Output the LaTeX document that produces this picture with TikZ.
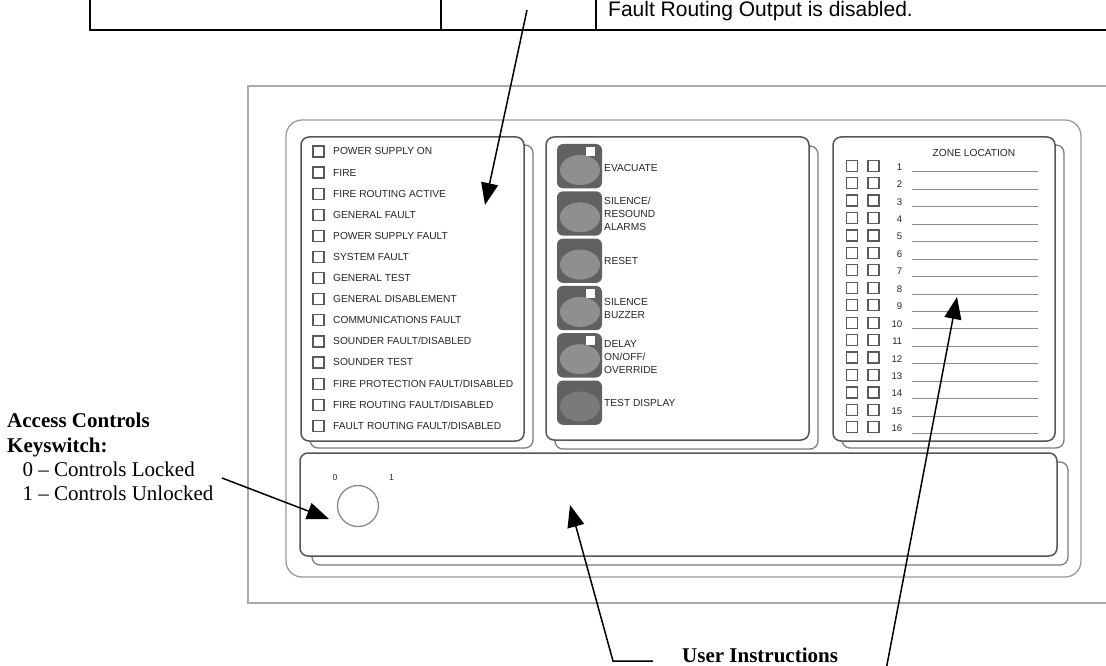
\documentclass[tikz,border=0pt]{standalone}
\usepackage{fontspec}
\setmainfont{Liberation Serif}
\setsansfont{Liberation Sans}
\usetikzlibrary{arrows.meta}
\definecolor{panelline}{HTML}{555555}
\definecolor{shadowline}{HTML}{7C7C7C}
\definecolor{frameline}{HTML}{9C9C9C}
\definecolor{outerline}{HTML}{AAAAAA}
\definecolor{btnfill}{HTML}{616161}
\definecolor{btnoval}{HTML}{8F8F8F}
\definecolor{btnovaldark}{HTML}{7A7A7A}
\definecolor{chkline}{HTML}{5A5A5A}
\definecolor{zoneline}{HTML}{8C8C8C}
\definecolor{keyline}{HTML}{8A8A8A}
\definecolor{paneltext}{HTML}{262626}
\tikzset{
  tableline/.style={draw=black, line width=1.2pt},
  tabletext/.style={font=\sffamily\fontsize{21}{24}\selectfont, anchor=base west, inner sep=0pt},
  outerframe/.style={draw=outerline, line width=1.3pt},
  innerframe/.style={draw=frameline, line width=1.3pt, rounded corners=16pt},
  frontpanel/.style={draw=panelline, line width=1.5pt, rounded corners=8pt, fill=white},
  shadowpanel/.style={draw=shadowline, line width=1.3pt, rounded corners=8pt, fill=white},
  chkbox/.style={draw=chkline, line width=1.2pt, minimum width=11pt, minimum height=11pt, inner sep=0pt, fill=white},
  lbl/.style={font=\sffamily\fontsize{10.2}{12.8}\selectfont, text=paneltext, anchor=base west, inner sep=0pt},
  mlbl/.style={font=\sffamily\fontsize{10.2}{12.8}\selectfont, text=paneltext, anchor=west, inner sep=0pt, align=left},
  znum/.style={font=\sffamily\fontsize{9.6}{11}\selectfont, text=paneltext, anchor=base east, inner sep=0pt},
  zline/.style={draw=zoneline, line width=1pt},
  button/.style={fill=btnfill, rounded corners=6pt, minimum width=45pt, minimum height=44.3pt, inner sep=0pt},
  keycircle/.style={draw=keyline, line width=1.3pt, circle, minimum size=41pt, inner sep=0pt},
  keylbl/.style={font=\sffamily\fontsize{8.6}{10}\selectfont, text=paneltext, anchor=base, inner sep=0pt},
  bigbold/.style={font=\bfseries\fontsize{21}{24}\selectfont, anchor=base west, inner sep=0pt},
  bigreg/.style={font=\fontsize{21}{24}\selectfont, anchor=base west, inner sep=0pt},
  callout/.style={draw=black, line width=1.5pt, -{Triangle[length=22pt,width=17pt]}}
}
\begin{document}
\begin{tikzpicture}[x=1pt,y=-1pt]
\useasboundingbox (0,0) rectangle (1106,666);
\fill[white] (0,0) rectangle (1106,666);

% ---- table remnant at top
\draw[tableline] (90,-3) -- (90,30) -- (1115,30);
\draw[tableline] (441,-3) -- (441,30);
\draw[tableline] (596,-3) -- (596,30);
\node[tabletext] (faultrouting) at (608,17) {Fault Routing Output is disabled.};

% ---- panel frames
\draw[outerframe] (248,86) rectangle (1120,603);
\draw[innerframe] (286,120) rectangle (1081,577);

% left indicator panel
\draw[shadowpanel] (310,145) rectangle (533,448);
\draw[frontpanel] (301,137) rectangle (524,441);
% middle button panel
\draw[shadowpanel] (555,146) rectangle (818,449);
\draw[frontpanel] (546,137) rectangle (809,440);
% right zone panel
\draw[shadowpanel] (842,145) rectangle (1064,448);
\draw[frontpanel] (833,137) rectangle (1055,441);
% bottom instructions panel
\draw[shadowpanel] (312,462) rectangle (1068,565);
\draw[frontpanel] (300,453) rectangle (1057,556);

% ---- left indicators
\foreach \t [count=\i from 0] in {POWER SUPPLY ON, FIRE, FIRE ROUTING ACTIVE, GENERAL FAULT, POWER SUPPLY FAULT, SYSTEM FAULT, GENERAL TEST, GENERAL DISABLEMENT, COMMUNICATIONS FAULT, SOUNDER FAULT/DISABLED, SOUNDER TEST, FIRE PROTECTION FAULT/DISABLED, FIRE ROUTING FAULT/DISABLED, FAULT ROUTING FAULT/DISABLED} {
  \node[chkbox] (lchk\i) at ({318.5},{151.5+21.1*\i}) {};
  \node[lbl] (ltxt\i) at ({333},{154.9+21.1*\i}) {\t};
}

% ---- middle buttons
\foreach \i/\sq in {0/1,1/0,2/0,3/1,4/1,5/0} {
  \pgfmathsetmacro\bt{144+47.3*\i}
  \node[button] (btn\i) at ({579.5},{\bt+22.15}) {};
  \ifnum\i=5
    \fill[btnovaldark] ({580},{\bt+26}) ellipse [x radius=20, y radius=15];
  \else
    \fill[btnoval] ({580},{\bt+26}) ellipse [x radius=20, y radius=15];
  \fi
  \ifnum\sq=1
    \fill[white] ({586},{\bt+2.7}) rectangle ({595},{\bt+11.7});
  \fi
}
\node[mlbl] (evac) at (604,168) {EVACUATE};
\node[mlbl] (silres) at (604,214) {SILENCE/\\RESOUND\\ALARMS};
\node[mlbl] (reset) at (604,260.5) {RESET};
\node[mlbl] (silbuz) at (604,308.5) {SILENCE\\BUZZER};
\node[mlbl] (delay) at (604,357) {DELAY\\ON/OFF/\\OVERRIDE};
\node[mlbl] (testdisp) at (604,403) {TEST DISPLAY};

% ---- zone panel
\node[font=\sffamily\fontsize{10.2}{12}\selectfont, text=paneltext, inner sep=0pt] (zonehead) at (974,153.3) {ZONE LOCATION};
\foreach \i in {1,...,16} {
  \pgfmathsetmacro\zy{166.7+17.44*(\i-1)}
  \node[chkbox] (zchka\i) at ({852},{\zy-1}) {};
  \node[chkbox] (zchkb\i) at ({873.5},{\zy-1}) {};
  \node[znum] (znum\i) at ({902.5},{\zy+3.5}) {\i};
  \draw[zline] ({912},{\zy+5.3}) -- ({1038},{\zy+5.3});
}

% ---- keyswitch
\node[keycircle] (key) at (358,506) {};
\node[keylbl] (key0) at (335,480.5) {0};
\node[keylbl] (key1) at (391.5,480.5) {1};

% ---- callout texts
\node[bigbold] (acc1) at (7,427) {Access Controls};
\node[bigbold] (acc2) at (7,452) {Keyswitch:};
\node[bigreg] (acc3) at (22.5,476) {0 -- Controls Locked};
\node[bigreg] (acc4) at (22.5,500.5) {1 -- Controls Unlocked};
\node[bigbold] (ui) at (682,662) {User Instructions};

% ---- callout arrows
\coordinate (topstart) at (527,10);
\coordinate (toptip) at (485,205);
\draw[callout] (topstart) -- (toptip);

\coordinate (keystart) at (222,478);
\coordinate (keytip) at (329,519);
\draw[callout] (keystart) -- (keytip);

\coordinate (uiend) at (653,661);
\coordinate (uicorner) at (613,661);
\coordinate (uitip) at (570,505);
\draw[callout] (uiend) -- (uicorner) -- (uitip);

\coordinate (zonestart) at (886,670);
\coordinate (zonetip) at (957,297);
\draw[callout] (zonestart) -- (zonetip);
\end{tikzpicture}
\end{document}
